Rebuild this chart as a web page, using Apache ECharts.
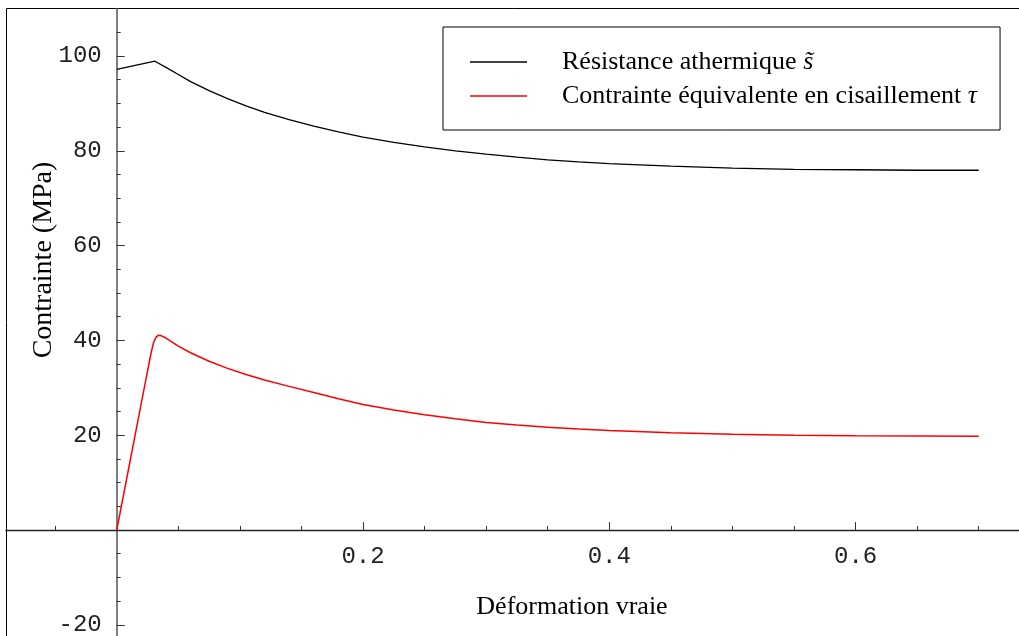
<!DOCTYPE html>
<html>
<head>
<meta charset="utf-8">
<script src="https://cdn.jsdelivr.net/npm/echarts@6/dist/echarts.min.js"></script>
<style>html,body{margin:0;padding:0;background:#fff}#c{width:1019px;height:636px}</style>
</head>
<body>
<div id="c"></div>
<script>
// ---- data ----
const strainS = [0, 0.031, 0.04, 0.05, 0.06, 0.075, 0.09, 0.105, 0.12, 0.14, 0.16, 0.18, 0.2, 0.225, 0.25, 0.275, 0.3, 0.325, 0.35, 0.375, 0.4, 0.45, 0.5, 0.55, 0.6, 0.65, 0.7];
const resistance = [97.2, 98.9, 97.6, 96.1, 94.6, 92.7, 91.0, 89.5, 88.1, 86.6, 85.2, 84.0, 82.9, 81.8, 80.85, 80.0, 79.3, 78.65, 78.1, 77.65, 77.3, 76.75, 76.35, 76.1, 76.0, 75.9, 75.9];
const strainT = [0, 0.01, 0.02, 0.028, 0.030, 0.032, 0.034, 0.036, 0.04, 0.05, 0.06, 0.075, 0.09, 0.105, 0.12, 0.14, 0.16, 0.18, 0.2, 0.225, 0.25, 0.275, 0.3, 0.325, 0.35, 0.375, 0.4, 0.45, 0.5, 0.55, 0.6, 0.65, 0.7];
const tau = [0, 13.4, 26.8, 37.5, 39.6, 40.7, 41.1, 41.0, 40.5, 38.8, 37.4, 35.6, 34.1, 32.8, 31.65, 30.3, 29.0, 27.7, 26.5, 25.3, 24.3, 23.45, 22.7, 22.15, 21.7, 21.3, 21.0, 20.5, 20.2, 20.0, 19.9, 19.85, 19.8];
const seriesNames = ['Résistance athermique', 'Contrainte équivalente en cisaillement'];
const seriesSymbols = ['s\u0303', '\u03C4'];
const xMajorTicks = [0.2, 0.4, 0.6];
const xMinorTicks = [-0.05, 0.05, 0.1, 0.15, 0.25, 0.3, 0.35, 0.45, 0.5, 0.55, 0.65, 0.7];
const yMajorTicks = [-20, 20, 40, 60, 80, 100];
const yMinorTicks = [-15, -10, -5, 5, 10, 15, 25, 30, 35, 45, 50, 55, 65, 70, 75, 85, 90, 95, 105];
const xTitle = 'Déformation vraie';
const yTitle = 'Contrainte (MPa)';

const X_MIN = -0.09, X_MAX = 0.7327, Y_MIN = -22.36, Y_MAX = 110;
const monoFont = "'Liberation Mono', 'DejaVu Sans Mono', monospace";
const serifFont = "'Liberation Serif', 'DejaVu Serif', serif";

const W = 1019, H = 636;
const G = {left: 5.9, top: 8.6, right: 0, bottom: 0};
const gridW = W - G.left - G.right, gridH = H - G.top - G.bottom;
// shift the axes from the grid edges onto the zero lines (Mathematica-style crossing axes)
const xAxisOffset = -(gridH * (0 - Y_MIN) / (Y_MAX - Y_MIN));
const yAxisOffset = -(gridW * (0 - X_MIN) / (X_MAX - X_MIN));

const chart = echarts.init(document.getElementById('c'), null, {renderer: 'canvas'});

function xAxisDef(major) {
  return {
    type: 'value', min: X_MIN, max: X_MAX, position: 'bottom', offset: xAxisOffset,
    axisLine: {show: major, onZero: false, lineStyle: {color: '#222', width: 1.3}},
    axisTick: {show: true, inside: true, length: major ? 8 : 4, customValues: major ? xMajorTicks : xMinorTicks,
               lineStyle: {color: '#333', width: 1}},
    axisLabel: {show: major, customValues: xMajorTicks, margin: 15, color: '#222',
                fontFamily: monoFont, fontSize: 24, formatter: v => String(v)},
    splitLine: {show: false}
  };
}
function yAxisDef(major) {
  return {
    type: 'value', min: Y_MIN, max: Y_MAX, position: 'left', offset: yAxisOffset,
    axisLine: {show: major, onZero: false, lineStyle: {color: '#555', width: 1.5}},
    axisTick: {show: true, inside: true, length: major ? 8 : 4, customValues: major ? yMajorTicks : yMinorTicks,
               lineStyle: {color: '#333', width: 1}},
    axisLabel: {show: major, customValues: yMajorTicks, margin: 15, color: '#222',
                fontFamily: monoFont, fontSize: 24, formatter: v => String(v)},
    splitLine: {show: false}
  };
}

const option = {
  backgroundColor: '#fff',
  animation: false,
  grid: {left: G.left, top: G.top, right: G.right, bottom: G.bottom, show: false, containLabel: false,
         outerBoundsMode: 'none'},
  xAxis: [xAxisDef(true), xAxisDef(false)],
  yAxis: [yAxisDef(true), yAxisDef(false)],
  legend: {
    orient: 'vertical', left: 443, top: 27, padding: [22, 23, 21, 27],
    borderColor: '#000', borderWidth: 1, backgroundColor: '#fff',
    itemWidth: 57, itemHeight: 1.5, itemGap: 8, icon: 'rect', selectedMode: false,
    data: seriesNames,
    formatter: name => name + ' {it|' + seriesSymbols[seriesNames.indexOf(name)] + '}',
    textStyle: {fontFamily: serifFont, fontSize: 26, lineHeight: 22, color: '#000', padding: [0, 0, 0, 30],
      rich: {it: {fontFamily: serifFont, fontSize: 26, lineHeight: 22, fontStyle: 'italic', color: '#000'}}}
  },
  graphic: [
    {type: 'rect', shape: {x: 6.5, y: 8.5, width: 1100, height: 700}, silent: true, z: -1,
     style: {fill: 'none', stroke: '#000', lineWidth: 1}},
    {type: 'text', x: 44, y: 260, rotation: Math.PI / 2,
     style: {text: yTitle, fill: '#000', font: '28px ' + serifFont, textAlign: 'center', textVerticalAlign: 'middle'}},
    {type: 'text', x: 572, y: 607,
     style: {text: xTitle, fill: '#000', font: '26px ' + serifFont, textAlign: 'center', textVerticalAlign: 'middle'}}
  ],
  series: [
    {name: seriesNames[0], type: 'line', xAxisIndex: 0, yAxisIndex: 0, showSymbol: false, symbol: 'none', smooth: false,
     color: '#000', itemStyle: {color: '#000'}, lineStyle: {color: '#000', width: 1.3},
     data: strainS.map((x, i) => [x, resistance[i]])},
    {name: seriesNames[1], type: 'line', xAxisIndex: 0, yAxisIndex: 0, showSymbol: false, symbol: 'none', smooth: false,
     color: '#ff0000', itemStyle: {color: '#ff0000'}, lineStyle: {color: '#ff0000', width: 1.5},
     data: strainT.map((x, i) => [x, tau[i]])}
  ]
};
chart.setOption(option);
</script>
</body>
</html>
